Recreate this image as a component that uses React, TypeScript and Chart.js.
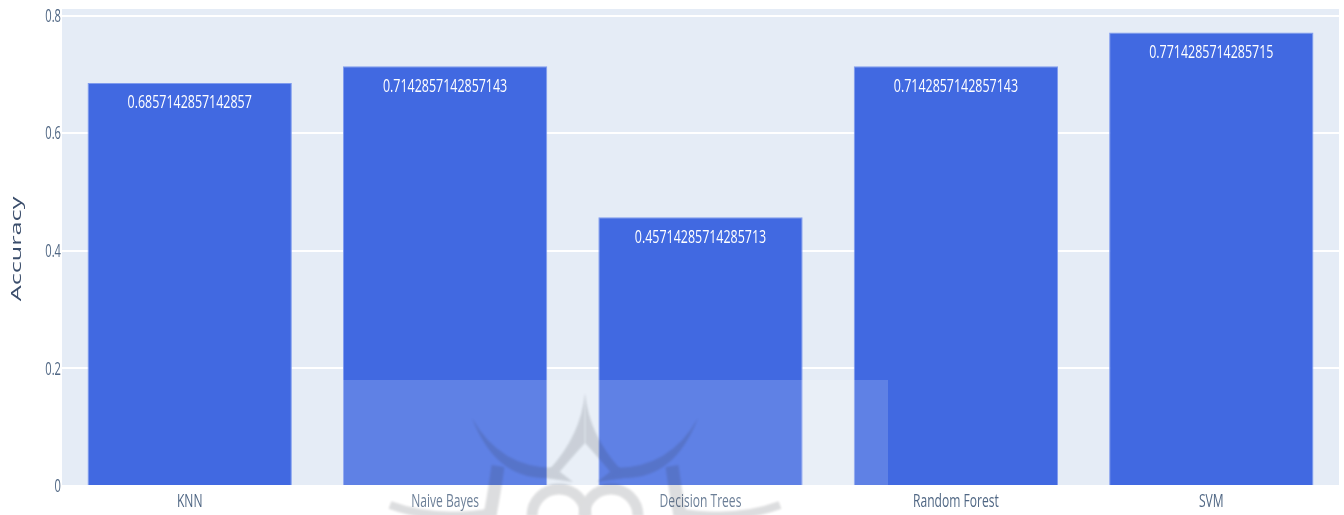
import React, { useEffect, useRef } from "react";
import { Chart, registerables } from "chart.js";

Chart.register(...registerables);

const categories = ["KNN", "Naive Bayes", "Decision Trees", "Random Forest", "SVM"];
const accuracy = [0.6857142857142857, 0.7142857142857143, 0.45714285714285713, 0.7142857142857143, 0.7714285714285715];
const valueLabels = ["0.6857142857142857", "0.7142857142857143", "0.45714285714285713", "0.7142857142857143", "0.7714285714285715"];
const yTicks = [0, 0.2, 0.4, 0.6, 0.8];
const yTickLabels = ["0", "0.2", "0.4", "0.6", "0.8"];
const axisTitle = "Accuracy";

const FONT = '"Open Sans", sans-serif';

function squeezed(ctx: any, text: string, x: number, y: number, sx: number, align: string) {
  ctx.save();
  ctx.translate(x, y);
  ctx.scale(sx, 1);
  ctx.textAlign = align;
  ctx.textBaseline = "middle";
  ctx.fillText(text, 0, 0);
  ctx.restore();
}

const plotBackground = {
  id: "plotBackground",
  beforeDraw(chart: any) {
    const { ctx, chartArea: a } = chart;
    ctx.save();
    ctx.fillStyle = "#E5ECF6";
    ctx.fillRect(a.left, a.top, a.right - a.left, a.bottom - a.top);
    ctx.restore();
  },
};

const textLayer = {
  id: "textLayer",
  afterDatasetsDraw(chart: any) {
    const { ctx, scales } = chart;
    ctx.save();
    ctx.fillStyle = "#ffffff";
    ctx.font = `19px ${FONT}`;
    chart.getDatasetMeta(0).data.forEach((el: any, i: number) => {
      squeezed(ctx, valueLabels[i], el.x, el.y + 20, 0.655, "center");
    });
    ctx.fillStyle = "#506784";
    ctx.font = `18px ${FONT}`;
    scales.x.ticks.forEach((t: any, i: number) => {
      squeezed(ctx, categories[t.value], scales.x.getPixelForTick(i), 502, 0.67, "center");
    });
    scales.y.ticks.forEach((t: any, i: number) => {
      squeezed(ctx, yTickLabels[i], 61, scales.y.getPixelForTick(i) + 1, 0.62, "right");
    });
    ctx.save();
    ctx.translate(17, 249);
    ctx.rotate(-Math.PI / 2);
    ctx.scale(1.8, 1);
    ctx.fillStyle = "#3a4d6b";
    ctx.font = `14px ${FONT}`;
    ctx.textAlign = "center";
    ctx.textBaseline = "middle";
    ctx.fillText(axisTitle, 0, 0);
    ctx.restore();
    ctx.restore();
  },
};

const watermark = {
  id: "watermark",
  afterDraw(chart: any) {
    const { ctx } = chart;
    ctx.save();
    ctx.fillStyle = "rgba(255,255,255,0.16)";
    ctx.fillRect(343, 380, 545, 135);

    // The faint logo is composed on its own layer so its overlapping strokes do not darken.
    const layer = document.createElement("canvas");
    layer.width = 1344;
    layer.height = 515;
    const g = layer.getContext("2d")!;
    g.filter = "blur(1.2px)";
    g.fillStyle = "#2d323c";
    g.strokeStyle = "#2d323c";
    const cx = 585;
    for (const s of [-1, 1]) {
      g.beginPath();
      g.moveTo(cx + s * 113, 418);
      g.quadraticCurveTo(cx + s * 85, 468, cx + s * 30, 468);
      g.lineTo(cx + s * 12, 482);
      g.lineTo(cx + s * 40, 478);
      g.quadraticCurveTo(cx + s * 90, 478, cx + s * 113, 418);
      g.fill();

      g.beginPath();
      g.moveTo(cx, 393);
      g.quadraticCurveTo(cx + s * 4, 435, cx + s * 36, 470);
      g.lineTo(cx + s * 28, 475);
      g.quadraticCurveTo(cx + s * 12, 456, cx, 443);
      g.closePath();
      g.fill();

      g.lineWidth = 13;
      g.beginPath();
      g.moveTo(cx + s * 87, 466);
      g.quadraticCurveTo(cx + s * 91, 495, cx + s * 95, 515);
      g.stroke();

      g.lineWidth = 11;
      g.beginPath();
      g.arc(cx + s * 26, 516, 27, Math.PI, 2 * Math.PI);
      g.stroke();

      g.lineWidth = 8;
      g.beginPath();
      g.moveTo(cx + s * 195, 505);
      g.quadraticCurveTo(cx + s * 150, 522, cx + s * 90, 512);
      g.stroke();
    }
    ctx.globalAlpha = 0.16;
    ctx.drawImage(layer, 0, 0);
    ctx.restore();
  },
};

export default function App() {
  const ref = useRef<HTMLCanvasElement>(null);
  useEffect(() => {
    document.body.style.margin = "0";
    const chart = new Chart(ref.current!, {
      type: "bar",
      data: {
        labels: categories,
        datasets: [{
          data: accuracy,
          backgroundColor: "#4169E1",
          borderColor: "#7f9bee",
          borderWidth: 1,
          barPercentage: 0.8,
          categoryPercentage: 1,
        }],
      },
      options: {
        responsive: false,
        animation: false,
        layout: { padding: { top: 9, right: 5, left: 0, bottom: 0 } },
        plugins: { legend: { display: false }, tooltip: { enabled: false } },
        scales: {
          x: {
            grid: { display: false },
            border: { display: false },
            ticks: { display: false },
            afterFit(s: any) { s.height = 29; },
          },
          y: {
            min: 0,
            max: 0.8116,
            grid: { color: "#ffffff", lineWidth: 2, drawTicks: false },
            border: { display: false },
            ticks: { display: false },
            afterBuildTicks(s: any) { s.ticks = yTicks.map((value) => ({ value })); },
            afterFit(s: any) { s.width = 62; },
          },
        },
      },
      plugins: [plotBackground, textLayer, watermark],
    });
    return () => chart.destroy();
  }, []);
  return <canvas ref={ref} width={1344} height={515} style={{ display: "block", filter: "blur(0.5px)" }} />;
}
